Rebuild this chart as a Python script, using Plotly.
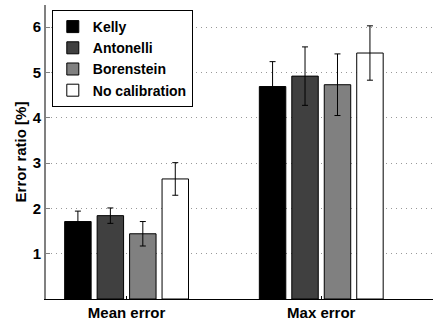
import plotly.graph_objects as go

categories = ["Mean error", "Max error"]
cat_pos = [1, 2]
series_names = ["Kelly", "Antonelli", "Borenstein", "No calibration"]
series_colors = ["#000000", "#404040", "#808080", "#ffffff"]
values = {
    "Kelly": [1.71, 4.69],
    "Antonelli": [1.84, 4.92],
    "Borenstein": [1.44, 4.73],
    "No calibration": [2.65, 5.43],
}
errors = {
    "Kelly": [0.23, 0.55],
    "Antonelli": [0.17, 0.645],
    "Borenstein": [0.27, 0.68],
    "No calibration": [0.36, 0.60],
}
y_ticks = [1, 2, 3, 4, 5, 6]

FONT = "Liberation Sans, Arial, sans-serif"

fig = go.Figure()
for name, col in zip(series_names, series_colors):
    fig.add_trace(go.Bar(
        x=cat_pos, y=values[name], name=name,
        marker=dict(color=col, line=dict(color="#000000", width=1)),
        error_y=dict(type="data", array=errors[name], color="#000000",
                     thickness=1, width=3, visible=True),
    ))

fig.update_layout(
    width=433, height=320,
    margin=dict(l=46, r=0, t=5, b=20.5),
    paper_bgcolor="white", plot_bgcolor="white",
    barmode="group", bargap=0.333, bargroupgap=0.185,
    font=dict(family=FONT, size=15, color="#000000"),
    showlegend=True,
    legend=dict(x=0.015, y=0.983, xanchor="left", yanchor="top",
                bgcolor="white", bordercolor="#000000", borderwidth=1,
                font=dict(family=FONT, size=14, color="#000000", weight="bold"),
                tracegroupgap=0, itemwidth=30),
    xaxis=dict(range=[0.586, 2.574], tickvals=cat_pos, ticktext=categories,
               showline=True, linecolor="#000000", linewidth=1,
               ticks="inside", ticklen=3, tickcolor="#000000",
               showgrid=False, zeroline=False,
               tickfont=dict(family=FONT, size=15, weight="bold")),
    yaxis=dict(range=[0, 6.49], tickvals=y_ticks,
               showline=True, linecolor="#808080", linewidth=2,
               ticks="inside", ticklen=4, tickcolor="#808080",
               showgrid=True, gridcolor="#999999", gridwidth=1, griddash="1px,4px",
               zeroline=False,
               tickfont=dict(family=FONT, size=15, weight="bold"),
               title=dict(text="Error ratio [%]", standoff=2,
                          font=dict(family=FONT, size=15, weight="bold"))),
)

fig.write_html("out.html")
